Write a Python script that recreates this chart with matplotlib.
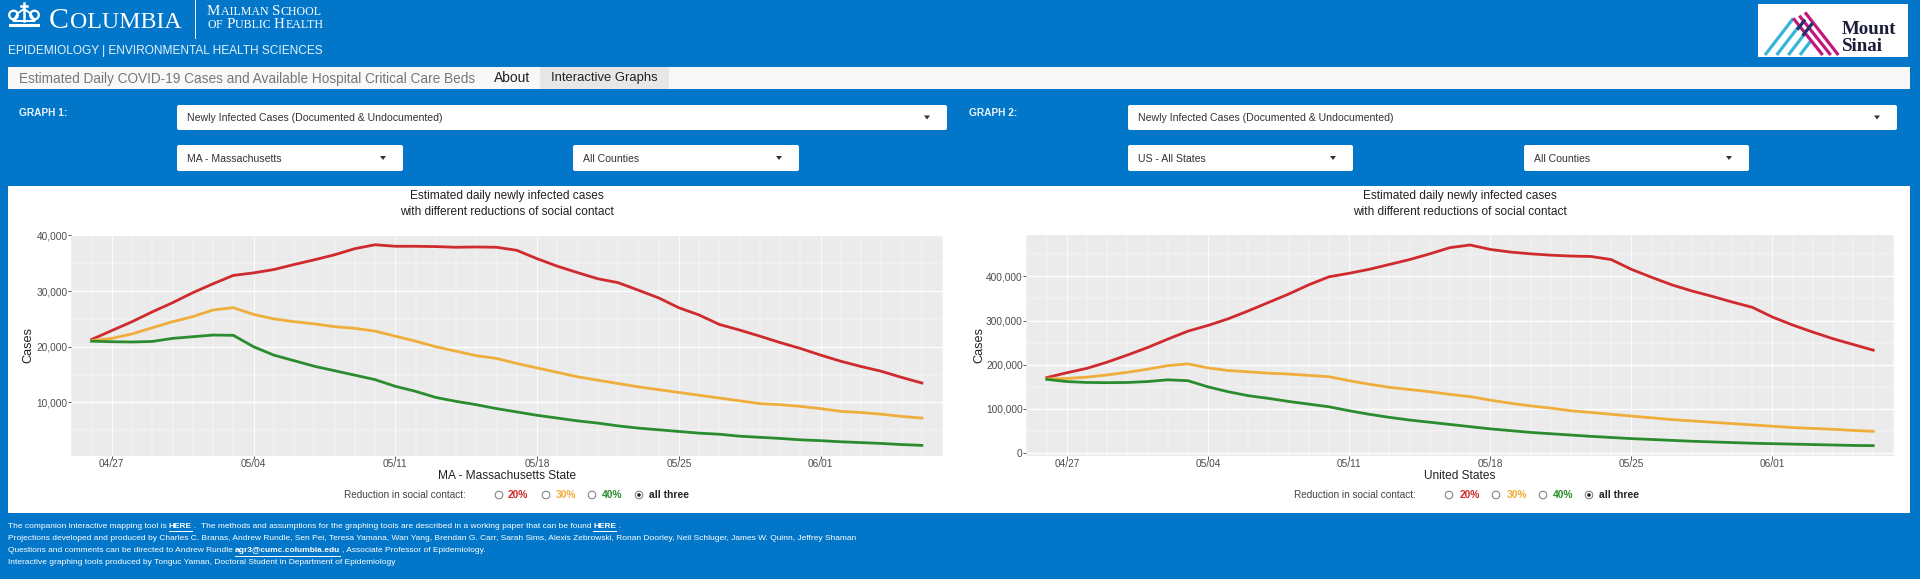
import matplotlib
matplotlib.use("Agg")
import matplotlib.pyplot as plt
import matplotlib.dates as mdates
import pandas as pd
from matplotlib.patches import FancyBboxPatch, Rectangle, Polygon, Circle
from matplotlib.ticker import FuncFormatter, MultipleLocator

plt.rcParams['font.family'] = ['Liberation Sans', 'DejaVu Sans']

dates = pd.date_range("2020-04-26", "2020-06-06")
tick_dates = pd.to_datetime(["2020-04-27", "2020-05-04", "2020-05-11", "2020-05-18", "2020-05-25", "2020-06-01"])
tick_labels = ["04/27", "05/04", "05/11", "05/18", "05/25", "06/01"]

# graph 1, Massachusetts
ma_20 = [21300, 22900, 24500, 26260, 27900, 29700, 31300, 32800, 33250, 33850, 34750, 35600, 36500, 37600,
         38300, 38030, 38030, 37970, 37850, 37900, 37850, 37300, 35800, 34450, 33300, 32200, 31500, 30150,
         28770, 27000, 25700, 24000, 23000, 21900, 20750, 19700, 18500, 17400, 16450, 15600, 14500, 13500]
ma_30 = [21100, 21500, 22300, 23400, 24500, 25400, 26600, 27000, 25800, 25000, 24500, 24100, 23600, 23300,
         22800, 21900, 21000, 20000, 19200, 18400, 17900, 17000, 16200, 15400, 14600, 14000, 13400, 12800,
         12300, 11800, 11300, 10800, 10300, 9800, 9600, 9300, 8900, 8400, 8200, 7900, 7500, 7200]
ma_40 = [21000, 20900, 20850, 20950, 21500, 21800, 22100, 22050, 20000, 18500, 17500, 16500, 15700, 14900,
         14100, 12900, 12000, 10900, 10200, 9600, 8900, 8300, 7700, 7200, 6700, 6300, 5800, 5400,
         5100, 4800, 4500, 4300, 3950, 3750, 3550, 3300, 3150, 2950, 2800, 2650, 2450, 2300]

# graph 2, all states
us_20 = [171000, 182000, 192000, 206000, 222000, 239000, 258000, 276000, 289000, 304000, 322000, 341000, 360000, 381000,
         399000, 407000, 416000, 427000, 438000, 451000, 465000, 471000, 461000, 455000, 451000, 448000, 446000, 445000,
         438000, 416000, 398000, 381000, 367000, 355000, 342000, 330000, 308000, 290000, 274000, 259000, 246000, 233000]
us_30 = [168000, 169000, 172000, 177000, 183000, 190000, 198000, 202000, 193000, 187000, 184000, 181000, 179000, 176000,
         173000, 164000, 156000, 149000, 144000, 139000, 133000, 128000, 120000, 113000, 107000, 102000, 96000, 92000,
         88000, 84000, 80000, 76000, 73000, 70000, 67000, 64000, 61000, 58000, 56000, 54000, 51500, 49500]
us_40 = [167000, 162000, 160000, 159500, 160000, 162000, 166000, 164000, 150000, 139000, 130000, 124000, 117000, 111000,
         105000, 96000, 88000, 81000, 75000, 70000, 65000, 60000, 55000, 51000, 47000, 44000, 41000, 38000,
         35500, 33000, 31000, 29000, 27000, 25500, 24000, 22500, 21500, 20500, 19500, 18500, 17500, 17000]

BLUE = '#0277C9'
RED = '#CF2A2E'
ORANGE = '#EFAE3C'
GREEN = '#2B8C2F'
W, H = 1920, 579

fig = plt.figure(figsize=(W / 100, H / 100), dpi=100, facecolor=BLUE)
ui = fig.add_axes([0, 0, 1, 1], zorder=0)
ui.set_xlim(0, W)
ui.set_ylim(H, 0)
ui.axis('off')


def txt(x, y, s, size=8, color='#333333', ha='left', **kw):
    return ui.text(x, y, s, fontsize=size, color=color, ha=ha, va='center', **kw)


def select_box(x0, x1, y0, y1, label):
    ui.add_patch(FancyBboxPatch((x0 + 2, y0 + 2), x1 - x0 - 4, y1 - y0 - 4, boxstyle='round,pad=2',
                                fc='white', ec='none'))
    txt(x0 + 10, (y0 + y1) / 2 + 0.5, label, size=7.55)
    ax_ = x1 - 20
    cy = (y0 + y1) / 2
    ui.add_patch(Polygon([(ax_ - 3, cy - 2), (ax_ + 3, cy - 2), (ax_, cy + 2)], fc='#333333', ec='none'))


def run_of_text(x, y, parts, size=6.05):
    # parts are (string, bold) pieces laid end to end, bold ones underlined
    r = fig.canvas.get_renderer()
    for s, bold in parts:
        t = txt(x, y, s, size=size, color='white', fontweight='bold' if bold else 'normal')
        bb = t.get_window_extent(r)
        if bold and s.strip():
            ui.plot([x, x + bb.width], [y + 5, y + 5], color='white', lw=0.7)
        x += bb.width + 2


def small_caps(x, y, word_parts, big, small):
    # the logo lettering, capitals and smaller capitals side by side
    r = fig.canvas.get_renderer()
    for s, is_big in word_parts:
        t = ui.text(x, y, s, fontsize=big if is_big else small, color='white',
                    family='Liberation Serif', va='baseline')
        x += t.get_window_extent(r).width + (1.2 if big > 12 else 0.4)


# header
for cx in (13.5, 34.5):
    ui.add_patch(Circle((cx, 15), 4.3, fc='none', ec='white', lw=1.6))
ui.add_patch(Polygon([(13, 21), (18, 13), (24, 9), (30, 13), (35, 21)], fc='none', ec='white', lw=1.4))
ui.plot([24, 24], [3, 21], color='white', lw=1.8)
ui.plot([21, 27], [5.5, 5.5], color='white', lw=1.8)
ui.plot([10, 38], [24.5, 24.5], color='white', lw=2.2)
small_caps(49, 28, [('C', True), ('OLUMBIA', False)], 21.5, 17.2)
ui.plot([195, 195], [0, 38], color='white', lw=0.7)
small_caps(207, 15, [('M', True), ('AILMAN ', False), ('S', True), ('CHOOL', False)], 10.8, 8.6)
small_caps(207, 28, [('O', False), ('F ', False), ('P', True), ('UBLIC ', False), ('H', True), ('EALTH', False)], 10.8, 8.6)
txt(8, 51, 'EPIDEMIOLOGY | ENVIRONMENTAL HEALTH SCIENCES', size=8.6, color='#E6F1FA')

# nav bar
ui.add_patch(Rectangle((8, 67), 1902, 22, fc='#F8F8F8', ec='none'))
ui.add_patch(Rectangle((540, 67), 129, 22, fc='#E7E7E7', ec='none'))
txt(19, 78.5, 'Estimated Daily COVID-19 Cases and Available Hospital Critical Care Beds', size=9.8, color='#777777')
txt(494, 78.5, 'About', size=10, color='#222222')
txt(551, 78.5, 'Interactive Graphs', size=9.35, color='#222222')

# mount sinai logo, drawn in a 3x grid over its corner of the header
ui.add_patch(Rectangle((1758, 4), 150, 53, fc='white', ec='none'))


def logo_line(p, q, c):
    ui.plot([1760 + p[0] / 3, 1760 + q[0] / 3], [5 + p[1] / 3, 5 + q[1] / 3], color=c, lw=2.3, solid_capstyle='butt')


for p, q in [((15, 150), (100, 40)), ((50, 150), (118, 62)), ((85, 150), (136, 84)), ((120, 150), (152, 108))]:
    logo_line(p, q, '#35B5D8')
for p, q in [((100, 40), (188, 150)), ((118, 32), (212, 150)), ((135, 22), (235, 150))]:
    logo_line(p, q, '#C2187E')
for p, q in [((112, 74), (135, 44)), ((128, 92), (158, 54))]:
    logo_line(p, q, '#23306E')
ui.text(1842, 29.5, 'Mount', fontsize=13.6, fontweight='bold', family='Liberation Serif', color='#1D1D3A', va='center')
ui.text(1842, 46.5, 'Sinai', fontsize=13.6, fontweight='bold', family='Liberation Serif', color='#1D1D3A', va='center')

# controls
txt(19, 112.5, 'GRAPH 1:', size=7.3, color='#E8F2FA', fontweight='bold')
txt(969, 112.5, 'GRAPH 2:', size=7.3, color='#E8F2FA', fontweight='bold')
select_box(177, 947, 105, 130, 'Newly Infected Cases (Documented & Undocumented)')
select_box(177, 403, 145, 171, 'MA - Massachusetts')
select_box(573, 799, 145, 171, 'All Counties')
select_box(1128, 1897, 105, 130, 'Newly Infected Cases (Documented & Undocumented)')
select_box(1128, 1353, 145, 171, 'US - All States')
select_box(1524, 1749, 145, 171, 'All Counties')

# white panel behind both graphs
ui.add_patch(Rectangle((8, 186), 1902, 327, fc='white', ec='none'))


def draw_graph(x0, x1, y0, y1, s20, s30, s40, ylim, ystep, xlabel, ylabel_x, title_x):
    ax = fig.add_axes([x0 / W, 1 - y1 / H, (x1 - x0) / W, (y1 - y0) / H], facecolor='#EBEBEB', zorder=1)
    ax.plot(dates, s20, color=RED, lw=2.0)
    ax.plot(dates, s30, color=ORANGE, lw=2.0)
    ax.plot(dates, s40, color=GREEN, lw=2.0)
    ax.set_xlim(dates[0] - pd.Timedelta(days=1.03), dates[-1] + pd.Timedelta(days=1.03))
    ax.set_ylim(*ylim)
    ax.set_xticks(tick_dates)
    ax.set_xticklabels(tick_labels)
    ax.xaxis.set_minor_locator(mdates.DayLocator())
    ax.yaxis.set_major_locator(MultipleLocator(ystep))
    ax.yaxis.set_minor_locator(MultipleLocator(ystep / 2))
    ax.yaxis.set_major_formatter(FuncFormatter(lambda v, _: f'{int(v):,}'))
    ax.grid(True, axis='y', which='major', color='white', lw=1.0)
    ax.grid(True, axis='x', which='major', color='white', lw=0.6)
    ax.grid(True, which='minor', color='white', lw=0.35)
    ax.set_axisbelow(True)
    ax.tick_params(which='major', length=2, width=0.7, color='#555555', labelcolor='#4D4D4D', labelsize=7.3)
    ax.tick_params(axis='y', which='major', pad=0.4)
    ax.tick_params(axis='x', which='major', pad=0.6)
    ax.tick_params(which='minor', length=0)
    for sp in ax.spines.values():
        sp.set_visible(False)
    txt(title_x, 196, 'Estimated daily newly infected cases', size=8.6, ha='center', color='#222222')
    txt(title_x, 212, 'with different reductions of social contact', size=8.6, ha='center', color='#222222')
    txt(title_x, 476, xlabel, size=8.6, ha='center', color='#222222')
    ui.text(ylabel_x, 345, 'Cases', fontsize=9.2, rotation=90, ha='center', va='center', color='#222222')


def radio_row(x_label, radios):
    txt(x_label, 495, 'Reduction in social contact:', size=7.2, color='#444444')
    for cx, tx, s, c in radios:
        ui.add_patch(Circle((cx, 495), 3.8, fc='white', ec='#777777', lw=0.7))
        txt(tx, 495, s, size=7.4, color=c, fontweight='bold')
    ui.add_patch(Circle((radios[-1][0], 495), 1.8, fc='#222222', ec='none'))


draw_graph(70.7, 942.7, 235, 455.7, ma_20, ma_30, ma_40, (450, 40050), 10000, 'MA - Massachusetts State', 28, 507)
draw_graph(1026, 1894, 235, 455.7, us_20, us_30, us_40, (-5700, 493600), 100000, 'United States', 979, 1460)
radio_row(344, [(499, 508, '20%', RED), (546, 556, '30%', ORANGE), (592, 602, '40%', GREEN), (639, 649, 'all three', '#222222')])
radio_row(1294, [(1449, 1460, '20%', RED), (1496, 1507, '30%', ORANGE), (1543, 1553, '40%', GREEN), (1589, 1599, 'all three', '#222222')])

# footer
run_of_text(8, 526, [('The companion interactive mapping tool is', False), ('HERE', True),
                     ('.  The methods and assumptions for the graphing tools are described in a working paper that can be found', False),
                     ('HERE', True), ('.', False)])
run_of_text(8, 538.5, [('Projections developed and produced by Charles C. Branas, Andrew Rundle, Sen Pei, Teresa Yamana, Wan Yang, Brendan G. Carr, Sarah Sims, Alexis Zebrowski, Ronan Doorley, Neil Schluger, James W. Quinn, Jeffrey Shaman', False)])
run_of_text(8, 551, [('Questions and comments can be directed to Andrew Rundle', False), ('agr3@cumc.columbia.edu', True),
                     (', Associate Professor of Epidemiology.', False)])
run_of_text(8, 563, [('Interactive graphing tools produced by Tonguc Yaman, Doctoral Student in Department of Epidemiology', False)])

fig.savefig('out.png', dpi=100, facecolor=BLUE)
